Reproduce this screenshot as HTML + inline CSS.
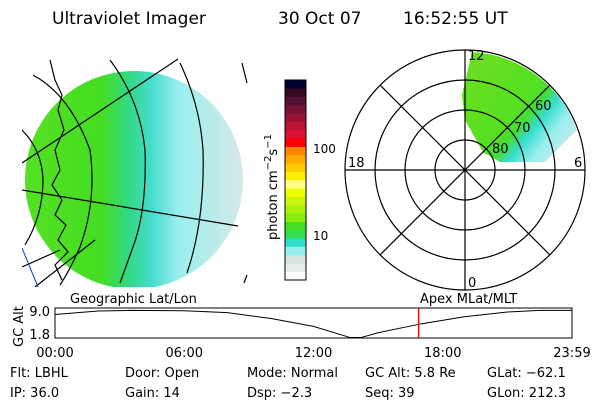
<!DOCTYPE html>
<html><head><meta charset="utf-8"><style>
html,body{margin:0;padding:0;background:#fff;}
svg{display:block;font-family:"DejaVu Sans","Liberation Sans",sans-serif;}
</style></head><body>
<svg width="600" height="400" viewBox="0 0 600 400" xmlns="http://www.w3.org/2000/svg">
<defs>
<linearGradient id="lg" x1="0" y1="0" x2="1" y2="0">
<stop offset="0" stop-color="#55e022"/><stop offset="0.35" stop-color="#44dd22"/>
<stop offset="0.48" stop-color="#33d888"/><stop offset="0.58" stop-color="#44ddcc"/>
<stop offset="0.7" stop-color="#99eeee"/><stop offset="1" stop-color="#d8e8e8"/>
</linearGradient>
<linearGradient id="pg" x1="475" y1="85" x2="570" y2="160" gradientUnits="userSpaceOnUse">
<stop offset="0" stop-color="#66e020"/><stop offset="0.4" stop-color="#55e022"/><stop offset="0.5" stop-color="#44dd33"/>
<stop offset="0.6" stop-color="#33ddcc"/><stop offset="0.75" stop-color="#99eeee"/><stop offset="1" stop-color="#dde8e8"/>
</linearGradient>
<clipPath id="lc"><rect x="22" y="57" width="228" height="230"/></clipPath>
</defs>
<g font-size="17" fill="#000">
<text x="52" y="24">Ultraviolet Imager</text>
<text x="278" y="24">30 Oct 07</text>
<text x="403" y="24">16:52:55 UT</text>
</g>
<g clip-path="url(#lc)">
<circle cx="134" cy="180" r="109" fill="url(#lg)"/>
<g fill="none" stroke="#000" stroke-width="1.2">
<path d="M33,75 Q70,95 90,150 Q97,200 80,247 Q70,270 60,285"/>
<path d="M110,60 Q140,100 145,150 Q147,210 133,247 L120,283"/>
<path d="M180,63 Q200,105 203,150 Q205,220 187,273"/>
<path d="M242,63 L247,83 M247,275 L244,283"/>
<path d="M22,130 Q42,150 43,180 Q43,215 25,245"/>
<path d="M22,190 L238,226"/>
<path d="M22,163 L178,59"/>
<path d="M22,267 L60,250 M35,287 L95,240"/>
<path d="M50,60 L55,80 L62,95 L58,110 L64,130 L55,150 L60,170 L52,185 L62,200 L55,215 L66,225 L58,240 L68,252 L55,265 L62,280"/>
</g>
<path d="M22,248 L38,287" stroke="#1133ee" stroke-width="1"/>
</g>
<g id="cb"></g>
<text font-size="13" transform="translate(277,240) rotate(-90)">photon cm<tspan dy="-6" font-size="10">−2</tspan><tspan dy="6">s</tspan><tspan dy="-6" font-size="10">−1</tspan></text>
<text x="313" y="153" font-size="12">100</text>
<text x="313" y="240" font-size="12">10</text>
<g>
<path d="M472,52 A118,118 0 0 1 577,130 L545,162 L500,162 L483,152 L465,120 L462,95 Z" fill="url(#pg)"/>
<g fill="none" stroke="#000" stroke-width="1.2">
<circle cx="465" cy="170" r="120"/><circle cx="465" cy="170" r="90"/>
<circle cx="465" cy="170" r="60"/><circle cx="465" cy="170" r="30"/>
<path d="M345,170 L585,170 M465,50 L465,290 M380,85 L550,255 M550,85 L380,255"/>
</g>
<g font-size="13">
<text x="468" y="60">12</text><text x="348" y="167">18</text><text x="574" y="167">6</text><text x="468" y="287">0</text>
<text x="535" y="110">60</text><text x="514" y="132">70</text><text x="492" y="153">80</text>
</g>
</g>
<text x="70" y="303" font-size="13">Geographic Lat/Lon</text>
<text x="420" y="303" font-size="13">Apex MLat/MLT</text>
<g id="alt"></g>
<g font-size="13">
<text x="10" y="377">Flt: LBHL</text><text x="125" y="377">Door: Open</text><text x="247" y="377">Mode: Normal</text><text x="365" y="377">GC Alt: 5.8 Re</text><text x="487" y="377">GLat: −62.1</text>
<text x="10" y="397">IP: 36.0</text><text x="125" y="397">Gain: 14</text><text x="247" y="397">Dsp:    −2.3</text><text x="365" y="397">Seq: 39</text><text x="487" y="397">GLon: 212.3</text>
</g>
</svg>
<script>
const cbColors=["#ffffff","#e8f0ee","#d6e4e2","#99eef0","#33ddcc","#33dd55","#44e022","#88ee11","#aaf011","#ccf511","#eeff00","#ffff88","#ffee00","#ffcc00","#ffaa00","#ff8800","#ff0000","#dd1133","#bb1133","#991133","#771133","#551133","#330a22","#000033"];
const hours=[0,2,3.5,6,8,10,12,13.7,14.2,15,17,19,21,22.5,24];
const alts=[8.2,9.3,9.5,9.4,8.8,7.0,4.5,1.0,1.0,2.5,5.3,7.5,9.0,9.5,9.5];
const timeLabels=["00:00","06:00","12:00","18:00","23:59"];
const timeTicks=[0,6,12,18,24];
const altLabels=["9.0","1.8"];
const altTicks=[9.0,1.8];
const markerHour=16.88;
const NS="http://www.w3.org/2000/svg";
function mk(t,a,p){const e=document.createElementNS(NS,t);for(const k in a)e.setAttribute(k,a[k]);p.appendChild(e);return e;}
const cb=document.getElementById('cb');
const bh=200/cbColors.length;
cbColors.forEach((c,i)=>{const r=mk('rect',{x:285,y:280-(i+1)*bh,width:21,height:bh+0.3,fill:c},cb);

});
const fr=mk('rect',{x:285,y:80,width:21,height:200,fill:'none',stroke:'#000'},cb);


const X0=55,X1=572;
const xs=h=>X0+h/24*(X1-X0);
const ys=a=>335-(a-1.8)*(23/7.2);
const g=document.getElementById('alt');
const box=mk('rect',{x:X0,y:308,width:X1-X0,height:30,fill:'none',stroke:'#000'},g);


const line=mk('polyline',{points:hours.map((h,i)=>xs(h)+','+Math.max(309,Math.min(338,ys(alts[i])))).join(' '),fill:'none',stroke:'#000','stroke-width':1},g);


const red=mk('line',{x1:xs(markerHour),x2:xs(markerHour),y1:308,y2:338,stroke:'#ff0000','stroke-width':1.5},g);


timeTicks.forEach((t,i)=>{const tx=mk('text',{x:xs(t),y:357,'font-size':13,'text-anchor':'middle'},g);tx.textContent=timeLabels[i];

});
altTicks.forEach((a,i)=>{const tx=mk('text',{x:50,y:ys(a)+4,'font-size':13,'text-anchor':'end'},g);tx.textContent=altLabels[i];

});
const yt=mk('text',{'font-size':13,transform:'translate(23,347) rotate(-90)'},g);yt.textContent='GC Alt';


</script>
</body></html>
